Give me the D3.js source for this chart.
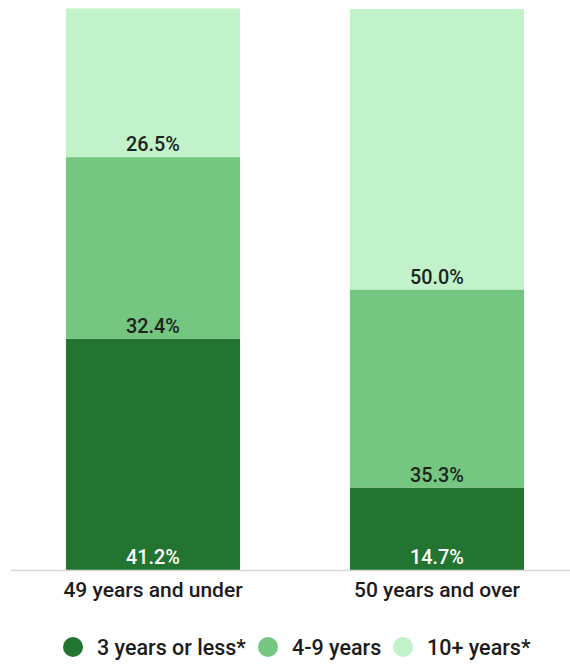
<!DOCTYPE html>
<html>
<head>
<meta charset="utf-8">
<script src="https://cdn.jsdelivr.net/npm/d3@7"></script>
<style>
  html, body { margin: 0; padding: 0; background: #ffffff; }
  svg { display: block; font-family: Roboto, "Noto Sans", sans-serif; }
</style>
</head>
<body>
<svg id="chart" width="570" height="664"></svg>
<script>
// Age groups and tenure shares (percent)
const categories = ["49 years and under", "50 years and over"];
const seriesNames = ["3 years or less*", "4-9 years", "10+ years*"];
const shortTenure = [41.2, 14.7];
const midTenure = [32.4, 35.3];
const longTenure = [26.5, 50.0];
const seriesColors = ["#237430", "#75c680", "#c1f2c9"];
const labelColors = ["#ffffff", "#1c241e", "#1c241e"];

const rows = categories.map((c, i) => ({
  category: c,
  "3 years or less*": shortTenure[i],
  "4-9 years": midTenure[i],
  "10+ years*": longTenure[i]
}));

const svg = d3.select("#chart");
const W = 570;
const baseY = 570, topY = 9;

const x = d3.scaleBand()
  .domain(categories)
  .range([11, 579])
  .paddingInner(0.387)
  .paddingOuter(0.1935);

const y = d3.scaleLinear().domain([0, 100]).range([baseY, topY]);

const color = d3.scaleOrdinal().domain(seriesNames).range(seriesColors);
const textColor = d3.scaleOrdinal().domain(seriesNames).range(labelColors);

const stacked = d3.stack().keys(seriesNames)(rows);

const layers = svg.append("g").selectAll("g")
  .data(stacked)
  .join("g")
  .attr("fill", d => color(d.key));

layers.selectAll("rect")
  .data(d => d)
  .join("rect")
  .attr("x", d => x(d.data.category))
  .attr("width", x.bandwidth())
  .attr("y", d => y(d[1]))
  .attr("height", d => y(d[0]) - y(d[1]));

// Value labels sit just inside the lower edge of each segment
const labels = svg.append("g").selectAll("g")
  .data(stacked)
  .join("g")
  .attr("fill", d => textColor(d.key));

labels.selectAll("text")
  .data(d => d)
  .join("text")
  .attr("x", d => x(d.data.category) + x.bandwidth() / 2)
  .attr("y", d => y(d[0]) - 6)
  .attr("text-anchor", "middle")
  .attr("font-size", 19.8)
  .attr("font-weight", 500)
  .text(d => (d[1] - d[0]).toFixed(1) + "%");

// Baseline
svg.append("line")
  .attr("x1", 11).attr("x2", W)
  .attr("y1", baseY + 0.5).attr("y2", baseY + 0.5)
  .attr("stroke", "#d6d6d6")
  .attr("stroke-width", 1.5);

// Category axis labels
const xAxis = d3.axisBottom(x).tickSize(0).tickPadding(12);
const axisG = svg.append("g")
  .attr("transform", `translate(0,${baseY})`)
  .call(xAxis);
axisG.select(".domain").remove();
axisG.selectAll("text")
  .attr("font-size", 21)
  .attr("font-family", "Roboto, 'Noto Sans', sans-serif")
  .attr("font-weight", 500)
  .attr("fill", "#1c1c1c");

// Legend
const legendItems = [
  { key: seriesNames[0], cx: 73 },
  { key: seriesNames[1], cx: 268 },
  { key: seriesNames[2], cx: 403 }
];
const legend = svg.append("g").selectAll("g")
  .data(legendItems)
  .join("g")
  .attr("transform", d => `translate(${d.cx},647)`);
legend.append("circle")
  .attr("r", 10)
  .attr("fill", d => color(d.key));
legend.append("text")
  .attr("x", 24)
  .attr("dy", "0.37em")
  .attr("font-size", 21.5)
  .attr("font-weight", 500)
  .attr("fill", "#1c1c1c")
  .text(d => d.key);
</script>
</body>
</html>
